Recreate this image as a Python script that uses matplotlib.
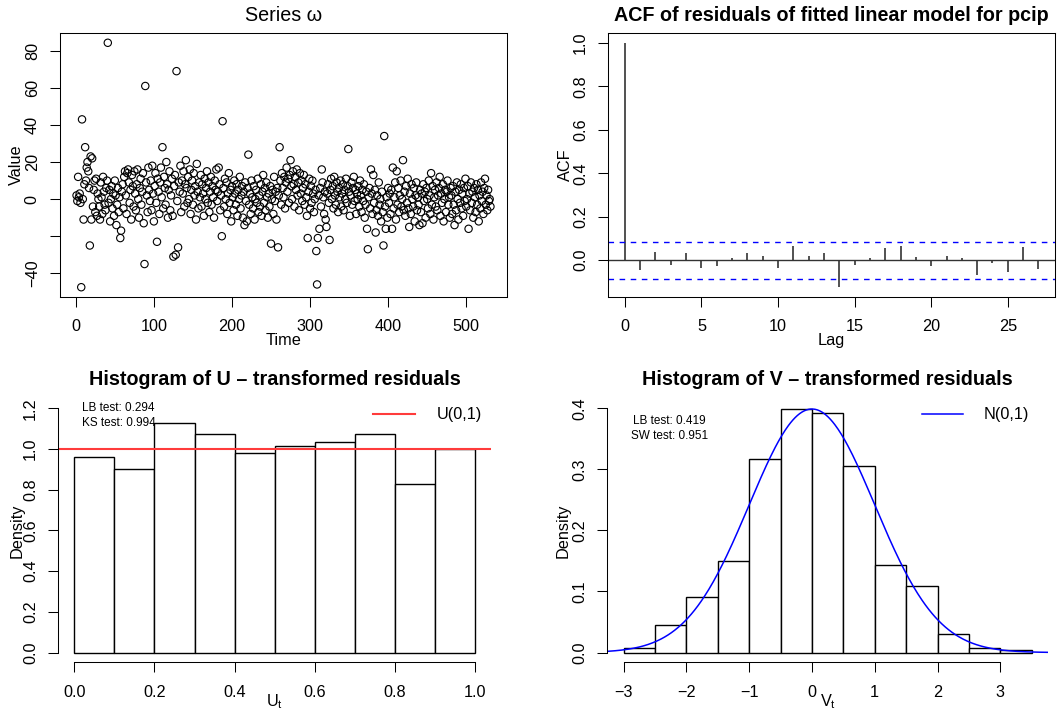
import numpy as np
import matplotlib.pyplot as plt
from matplotlib.lines import Line2D

plt.rcParams['font.family'] = ['Liberation Sans', 'DejaVu Sans']
plt.rcParams['mathtext.fontset'] = 'custom'
plt.rcParams['mathtext.rm'] = 'Liberation Sans'
plt.rcParams['mathtext.it'] = 'Liberation Sans'

# --- data ---
omega = [
    2, -1, 12, 1, 3, -2, -47.5, 43, 0, -11, 8, 28, 10, 17, 20, 15, 6, -25, 23, -11,
    22, -4, 5, 10, -7, 11, -9, 3, 0, -4, -11, 9, 1, -8, 12, 4, -3, -6, 6, 10,
    84.3, -2, 5, -12, 0, 7, -5, 3, -9, 10, 2, -14, -3, 6, -7, 1, -21, -17, 4, 8,
    -5, 12, 15, 2, -8, 14, 16, 9, -2, 5, -11, 13, 7, -4, 15, 3, -6, 8, 16, 0,
    -10, 6, 11, -3, 4, 14, -13, -35, 61, 9, 2, -7, 17, 5, -1, 10, -6, 18, 3, -12,
    7, 14, -2, -23, 11, 4, -8, 9, 17, 1, 28, -5, 12, 6, -3, 20, 8, -10, 5, 15,
    -6, 2, 11, -9, -31, 7, 13, -30, 69, -1, -26, 9, 4, 18, -7, 10, 3, 15, -4, 8,
    21, 6, -2, 12, 0, 16, -8, 5, 10, -3, 14, 2, 7, -11, 19, 4, -5, 9, 1, 13,
    -4, 8, 3, -9, 11, 0, 6, 15, -2, 9, -7, 4, 12, -3, 7, 1, -10, 10, 5, 16,
    -1, 4, 17, 8, -6, 2, -20, 42, 6, -4, 11, 0, 9, -8, 3, 14, -2, 5, -12, 7,
    1, -6, 10, 3, -3, 8, -9, 5, 0, 12, -5, 2, 7, -10, 4, -14, 9, -1, -12, 6,
    24, -3, 3, -8, 10, 1, -5, 7, -11, 0, 5, -2, 11, -7, 2, -4, 8, -9, 4, 13,
    -2, 6, -6, 9, 1, -10, 3, -4, 7, -24, 0, 5, -8, 12, -1, 4, -11, 6, -26, 2,
    28, 10, -3, 14, 6, 1, 12, -5, 9, 17, 4, 11, -2, 13, 21, 7, 0, 15, 8, -4,
    12, 5, 16, 2, 9, -6, 14, 3, 10, -1, 6, 13, -3, 8, 1, -9, -21, 4, 11, -5,
    7, -2, 10, 3, -7, 0, 5, -28, -46, -21, 2, -16, 6, -4, 16, 9, 1, -8, 4, -11,
    -15, 3, 8, -2, -22, 5, 11, 0, 7, -5, 12, 2, -3, 9, 4, -7, 6, 1, 10, -4,
    3, 8, -6, 5, 0, 11, -2, 7, 27, 4, -9, 2, 9, -3, 6, 12, -1, 5, -8, 3,
    0, 7, -4, 10, 2, -7, 5, -1, 8, -10, -3, 4, -16, -27, 1, 6, -5, 16, 3, -8,
    13, -2, 5, -18, -6, 2, -9, 9, -3, 0, -12, 4, -7, -25, 34, -4, -16, 1, -10, 6,
    -2, 3, -8, 5, -16, 17, -5, 1, 9, -11, 15, -3, 6, -7, 2, 10, -4, 0, 21, -6,
    4, -9, 7, -2, 11, -5, -15, 3, -8, 8, 0, -4, 6, -12, 2, 9, -6, 1, -3, -14,
    5, -7, 3, -13, 8, -1, 4, -10, 6, 0, -5, 10, 2, -8, 14, -3, 7, -11, 1, 5,
    -4, 9, -6, 2, 6, 12, -9, 3, -2, 8, -12, 0, 5, -7, 4, 10, -3, 1, -10, 6,
    2, -8, 7, -3, -14, 4, -6, 9, 0, -11, 5, -2, 8, -5, 3, -9, 6, -1, 11, -4,
    0, 7, -16, 3, -6, 9, -2, 4, -10, 6, 1, -7, 8, -3, 5, -12, 2, -5, 9, -1,
    4, -8, 6, 11, -3, 2, -6, 5, -1, 0, -4,
]
time = np.arange(1, len(omega) + 1)

acf_lags = list(range(28))
acf_vals = [1.0, -0.046, 0.037, -0.023, 0.031, -0.035, -0.028, 0.011, 0.031, 0.020,
            -0.034, 0.064, 0.018, 0.031, -0.123, -0.020, 0.009, 0.055, 0.064, 0.014,
            -0.028, 0.018, 0.008, -0.066, -0.011, -0.055, 0.060, -0.040]
acf_ci = 0.085

u_breaks = [0.0, 0.1, 0.2, 0.3, 0.4, 0.5, 0.6, 0.7, 0.8, 0.9, 1.0]
u_density = [0.960, 0.904, 1.130, 1.073, 0.979, 1.017, 1.036, 1.073, 0.829, 0.998]

v_breaks = [-3.0, -2.5, -2.0, -1.5, -1.0, -0.5, 0.0, 0.5, 1.0, 1.5, 2.0, 2.5, 3.0, 3.5]
v_density = [0.0075, 0.0452, 0.0904, 0.1507, 0.3164, 0.3992, 0.3917, 0.3051,
             0.1431, 0.1092, 0.0301, 0.0075, 0.0038]

TICK = 11.7
TITLE = 14.2
SMALL = 8.5

fig = plt.figure(figsize=(10.6, 7.13), dpi=100)

ax1 = fig.add_axes([60 / 1060, (713 - 297) / 713, 447 / 1060, 264 / 713])
ax2 = fig.add_axes([608.3 / 1060, (713 - 296.7) / 713, 446.7 / 1060, 263.4 / 713])
ax3 = fig.add_axes([58.3 / 1060, (713 - 662.3) / 713, 432.7 / 1060, 263.7 / 713])
ax4 = fig.add_axes([607.3 / 1060, (713 - 662.3) / 713, 440.7 / 1060, 263.7 / 713])

for ax in (ax1, ax2, ax3, ax4):
    ax.tick_params(direction='out', length=7, width=0.75, labelsize=TICK, color='black')
    ax.tick_params(axis='x', pad=9)
    ax.tick_params(axis='y', labelrotation=90, pad=7.5)
    for s in ax.spines.values():
        s.set_linewidth(0.75)


def title(ax, text, y, bold=True):
    ax.text(0.5, y, text, transform=ax.transAxes, ha='center', va='center',
            fontsize=TITLE, fontweight='bold' if bold else 'normal')


def ylab(ax, text, x):
    ax.text(x, 0.5, text, transform=ax.transAxes, rotation=90, ha='center', va='center',
            rotation_mode='anchor', fontsize=TICK)


def xlab(ax, text, y):
    ax.text(0.5, y, text, transform=ax.transAxes, ha='center', va='center', fontsize=TICK)


# --- panel 1: series ---
ax1.scatter(time, omega, s=28, facecolors='none', edgecolors='black', linewidths=0.8)
ax1.margins(x=0.04, y=0.04)
ax1.set_xticks([0, 100, 200, 300, 400, 500])
ax1.set_yticks([-40, -20, 0, 20, 40, 60, 80])
ax1.set_yticklabels(['\u221240', '', '0', '20', '40', '60', '80'], va='center')
title(ax1, 'Series \u03c9', 1.068, bold=False)
ylab(ax1, 'Value', -0.097)
xlab(ax1, 'Time', -0.165)

# --- panel 2: ACF ---
ax2.vlines(acf_lags, 0, acf_vals, color='#333333', linewidth=1.2)
ax2.axhline(0, color='#333333', linewidth=1)
ax2.axhline(acf_ci, color='blue', linewidth=1, linestyle=(0, (4, 4)))
ax2.axhline(-acf_ci, color='blue', linewidth=1, linestyle=(0, (4, 4)))
ax2.margins(x=0.04, y=0.04)
ax2.set_xticks([0, 5, 10, 15, 20, 25])
ax2.set_yticks([0.0, 0.2, 0.4, 0.6, 0.8, 1.0])
ax2.set_yticklabels(['0.0', '0.2', '0.4', '0.6', '0.8', '1.0'], va='center')
title(ax2, 'ACF of residuals of fitted linear model for pcip', 1.068)
ylab(ax2, 'ACF', -0.097)
xlab(ax2, 'Lag', -0.166)

# --- panel 3: U histogram ---
ax3.bar(u_breaks[:-1], u_density, width=np.diff(u_breaks), align='edge',
        facecolor='white', edgecolor='black', linewidth=1)
ax3.axhline(1.0, color='#ff3b3b', linewidth=1.5)
ax3.set_xlim(-0.04, 1.04)
ax3.set_ylim(-0.048, 1.248)
ax3.set_xticks([0.0, 0.2, 0.4, 0.6, 0.8, 1.0])
ax3.set_xticklabels(['0.0', '0.2', '0.4', '0.6', '0.8', '1.0'])
ax3.set_yticks([0.0, 0.2, 0.4, 0.6, 0.8, 1.0, 1.2])
ax3.set_yticklabels(['0.0', '0.2', '0.4', '0.6', '0.8', '1.0', '1.2'], va='center')
ax3.spines['top'].set_visible(False)
ax3.spines['right'].set_visible(False)
ax3.spines['bottom'].set_bounds(0, 1)
ax3.spines['left'].set_bounds(0, 1.2)
title(ax3, 'Histogram of U \u2013 transformed residuals', 1.073)
ax3.text(0.11, 1.2, 'LB test: 0.294', ha='center', va='center', fontsize=SMALL)
ax3.text(0.11, 1.126, 'KS test: 0.994', ha='center', va='center', fontsize=SMALL)
ax3.add_line(Line2D([0.728, 0.825], [0.9405, 0.9405], transform=ax3.transAxes,
                    color='#ff3b3b', linewidth=1.5))
ax3.text(0.875, 0.9405, 'U(0,1)', transform=ax3.transAxes, ha='left', va='center',
         fontsize=TICK)
ylab(ax3, 'Density', -0.096)
xlab(ax3, r'$\mathrm{U_t}$', -0.15)

# --- panel 4: V histogram ---
ax4.bar(v_breaks[:-1], v_density, width=np.diff(v_breaks), align='edge',
        facecolor='white', edgecolor='black', linewidth=1)
ax4.set_xlim(-3.26, 3.76)
ax4.set_ylim(-0.016, 0.416)
xs = np.linspace(-3.26, 3.76, 400)
ax4.plot(xs, np.exp(-xs ** 2 / 2) / np.sqrt(2 * np.pi), color='blue', linewidth=1.1)
ax4.set_xticks([-3, -2, -1, 0, 1, 2, 3])
ax4.set_yticks([0.0, 0.1, 0.2, 0.3, 0.4])
ax4.set_yticklabels(['0.0', '0.1', '0.2', '0.3', '0.4'], va='center')
ax4.spines['top'].set_visible(False)
ax4.spines['right'].set_visible(False)
ax4.spines['bottom'].set_bounds(-3, 3)
ax4.spines['left'].set_bounds(0, 0.4)
title(ax4, 'Histogram of V \u2013 transformed residuals', 1.073)
ax4.text(-2.27, 0.380, 'LB test: 0.419', ha='center', va='center', fontsize=SMALL)
ax4.text(-2.27, 0.354, 'SW test: 0.951', ha='center', va='center', fontsize=SMALL)
ax4.add_line(Line2D([0.713, 0.808], [0.9405, 0.9405], transform=ax4.transAxes,
                    color='blue', linewidth=1.1))
ax4.text(0.855, 0.9405, 'N(0,1)', transform=ax4.transAxes, ha='left', va='center',
         fontsize=TICK)
ylab(ax4, 'Density', -0.0998)
xlab(ax4, r'$\mathrm{V_t}$', -0.15)

fig.savefig('out.png', dpi=100)
